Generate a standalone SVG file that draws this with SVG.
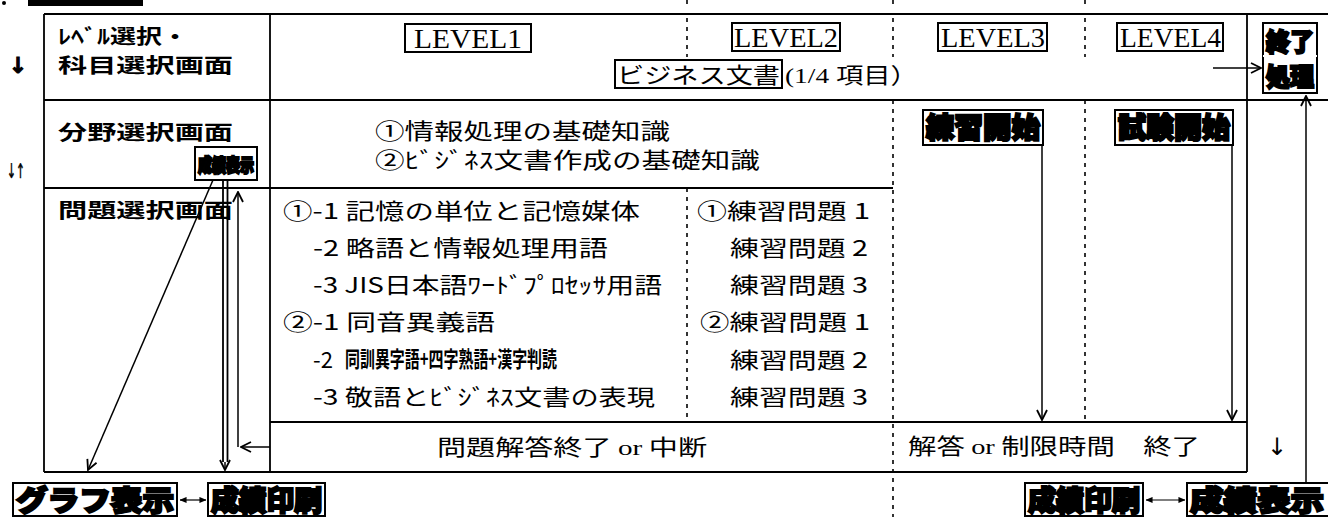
<svg xmlns="http://www.w3.org/2000/svg" width="1328" height="517" viewBox="0 0 1328 517">
<style>
.f{stroke:#000;stroke-width:1.8;fill:none}
.d{stroke:#000;stroke-width:1.6;stroke-dasharray:4 5;fill:none}
.c{stroke:#000;stroke-width:1.5;fill:none;marker-end:url(#a)}
.s{stroke:#000;stroke-width:1.2;fill:none;marker-start:url(#b);marker-end:url(#b)}
.jp{font-family:"Noto Sans CJK JP",sans-serif;font-size:22px;fill:#000}
.lb{font-family:"Noto Sans CJK JP",sans-serif;font-weight:700;font-size:20px;fill:#000}
.lv{font-family:"Liberation Serif","Noto Sans CJK JP",serif;font-size:28px;fill:#000}
.se{font-family:"Liberation Serif",serif}
.hv{font-family:"Noto Sans CJK JP",sans-serif;font-weight:900;fill:#000;stroke:#000;stroke-width:2.2}
.bx{fill:#fff;stroke:#000;stroke-width:2}
.ar{font-family:"DejaVu Sans",sans-serif;fill:#000}
</style>
<defs>
<marker id="a" viewBox="0 0 12 12" refX="11" refY="6" markerWidth="12" markerHeight="12" orient="auto" markerUnits="userSpaceOnUse"><path d="M1,1 L11,6 L1,11" fill="none" stroke="#000" stroke-width="1.8"/></marker>
<marker id="b" viewBox="0 0 8 8" refX="7.5" refY="4" markerWidth="7" markerHeight="7" orient="auto-start-reverse" markerUnits="userSpaceOnUse"><path d="M0,0.5 L8,4 L0,7.5 Z" fill="#000"/></marker>
</defs>
<rect width="1328" height="517" fill="#fff"/>

<g id="header-cut">
<circle cx="4" cy="3" r="2" fill="#000"/>
<rect x="28" y="0" width="115" height="6" fill="#000"/>
</g>

<g id="frame">
<path class="f" d="M44,14 H1328 M44,100 H1328 M44,188 H893 M270,422 H1247 M44,472 H1247 M44,14 V472 M270,14 V472 M1247,14 V472"/>
<path class="d" d="M687,0 V8 M687,18 V57 M687,188 V422 M893,0 V8 M893,18 V57 M893,100 V517 M1085,0 V8 M1085,18 V57 M1085,100 V422"/>
</g>

<g id="row-labels">
<text class="ar" x="18" y="73" font-size="22" font-weight="bold" stroke="#000" stroke-width="1" text-anchor="middle">↓</text>
<text class="lb" x="58" y="44" textLength="130" lengthAdjust="spacingAndGlyphs">ﾚﾍﾞﾙ選択・</text>
<text class="lb" x="58" y="73" textLength="175" lengthAdjust="spacingAndGlyphs">科目選択画面</text>
<text class="ar" x="7" y="178" font-size="20" stroke="#000" stroke-width="0.6" textLength="18" lengthAdjust="spacingAndGlyphs">↓↑</text>
<text class="lb" x="58" y="140" textLength="175" lengthAdjust="spacingAndGlyphs">分野選択画面</text>
<text class="lb" x="58" y="218" textLength="175" lengthAdjust="spacingAndGlyphs">問題選択画面</text>
</g>

<g id="level1"><rect class="bx" x="405" y="24" width="126" height="28" stroke-width="1.6"/><text class="lv" x="414" y="48" textLength="108" lengthAdjust="spacingAndGlyphs">LEVEL1</text></g>
<g id="level2"><rect class="bx" x="732" y="23" width="108" height="28" stroke-width="1.6"/><text class="lv" x="734" y="47" textLength="104" lengthAdjust="spacingAndGlyphs">LEVEL2</text></g>
<g id="level3"><rect class="bx" x="938" y="23" width="109" height="28" stroke-width="1.6"/><text class="lv" x="941" y="47" textLength="104" lengthAdjust="spacingAndGlyphs">LEVEL3</text></g>
<g id="level4"><rect class="bx" x="1117" y="23" width="106" height="28" stroke-width="1.6"/><text class="lv" x="1120" y="47" textLength="101" lengthAdjust="spacingAndGlyphs">LEVEL4</text></g>

<g id="subject">
<rect class="bx" x="615" y="60" width="167" height="28" stroke-width="1.6"/>
<text class="jp" x="617" y="83" font-size="26" textLength="163" lengthAdjust="spacingAndGlyphs">ビジネス文書</text>
<text class="jp" x="785" y="83" font-size="26" textLength="133" lengthAdjust="spacingAndGlyphs"><tspan class="se">(1/4 </tspan>項目）</text>
</g>

<g id="end-process">
<rect class="bx" x="1263" y="23" width="54" height="70"/>
<text class="hv" x="1266" y="51" font-size="25" textLength="48" lengthAdjust="spacingAndGlyphs">終了</text>
<line x1="1263" y1="56" x2="1317" y2="56" stroke="#fff" stroke-width="2"/>
<text class="hv" x="1266" y="86" font-size="25" textLength="48" lengthAdjust="spacingAndGlyphs">処理</text>
</g>

<g id="fields">
<text class="jp" x="375" y="139" font-size="21" textLength="295" lengthAdjust="spacingAndGlyphs">①情報処理の基礎知識</text>
<text class="jp" x="375" y="168" font-size="21" textLength="385" lengthAdjust="spacingAndGlyphs">②ﾋﾞｼﾞﾈｽ文書作成の基礎知識</text>
</g>

<g id="score-view-small">
<rect class="bx" x="195" y="147" width="62" height="33"/>
<text class="hv" x="198" y="172" font-size="18" stroke-width="1.6" textLength="56" lengthAdjust="spacingAndGlyphs">成績表示</text>
</g>

<g id="practice-start">
<rect class="bx" x="923" y="110" width="120" height="35"/>
<text class="hv" x="926" y="138" font-size="28" textLength="114" lengthAdjust="spacingAndGlyphs">練習開始</text>
</g>
<g id="test-start">
<rect class="bx" x="1115" y="110" width="118" height="35"/>
<text class="hv" x="1118" y="138" font-size="28" textLength="112" lengthAdjust="spacingAndGlyphs">試験開始</text>
</g>

<g id="topics">
<text class="jp" x="283" y="219" textLength="357" lengthAdjust="spacingAndGlyphs">①-1 記憶の単位と記憶媒体</text>
<text class="jp" x="313" y="256" textLength="295" lengthAdjust="spacingAndGlyphs">-2 略語と情報処理用語</text>
<text class="jp" x="313" y="293" textLength="349" lengthAdjust="spacingAndGlyphs">-3 JIS日本語ﾜｰﾄﾞﾌﾟﾛｾｯｻ用語</text>
<text class="jp" x="283" y="330" textLength="212" lengthAdjust="spacingAndGlyphs">②-1 同音異義語</text>
<text class="jp" x="313" y="368">-2</text>
<text class="jp" x="345" y="367" font-size="16" font-weight="700" textLength="212" lengthAdjust="spacingAndGlyphs">同訓異字語+四字熟語+漢字判読</text>
<text class="jp" x="313" y="405" textLength="342" lengthAdjust="spacingAndGlyphs">-3 敬語とﾋﾞｼﾞﾈｽ文書の表現</text>
</g>

<g id="exercises">
<text class="jp" x="697" y="219" textLength="173" lengthAdjust="spacingAndGlyphs">①練習問題 1</text>
<text class="jp" x="730" y="256" textLength="138" lengthAdjust="spacingAndGlyphs">練習問題 2</text>
<text class="jp" x="730" y="293" textLength="138" lengthAdjust="spacingAndGlyphs">練習問題 3</text>
<text class="jp" x="700" y="330" textLength="170" lengthAdjust="spacingAndGlyphs">②練習問題 1</text>
<text class="jp" x="730" y="368" textLength="138" lengthAdjust="spacingAndGlyphs">練習問題 2</text>
<text class="jp" x="730" y="405" textLength="138" lengthAdjust="spacingAndGlyphs">練習問題 3</text>
</g>

<g id="answer-end">
<text class="jp" x="437" y="455" textLength="270" lengthAdjust="spacingAndGlyphs">問題解答終了 <tspan class="se">or</tspan> 中断</text>
</g>
<g id="time-end">
<text class="jp" x="908" y="454" textLength="292" lengthAdjust="spacingAndGlyphs">解答 <tspan class="se">or</tspan> 制限時間　終了</text>
<text class="ar" x="1277" y="455" font-size="24" text-anchor="middle">↓</text>
</g>

<g id="graph-view">
<rect class="bx" x="13" y="483" width="164" height="33"/>
<text class="hv" x="16" y="511" font-size="28" textLength="158" lengthAdjust="spacingAndGlyphs">グラフ表示</text>
</g>
<g id="score-print-left">
<rect class="bx" x="208" y="483" width="117" height="33"/>
<text class="hv" x="211" y="511" font-size="28" textLength="111" lengthAdjust="spacingAndGlyphs">成績印刷</text>
</g>
<g id="score-print-right">
<rect class="bx" x="1025" y="483" width="118" height="33"/>
<text class="hv" x="1028" y="511" font-size="28" textLength="112" lengthAdjust="spacingAndGlyphs">成績印刷</text>
</g>
<g id="score-view-right">
<rect class="bx" x="1187" y="483" width="150" height="33"/>
<text class="hv" x="1190" y="511" font-size="28" textLength="134" lengthAdjust="spacingAndGlyphs">成績表示</text>
</g>

<g id="connectors">
<path class="c" d="M1213,68 H1261"/>
<path class="c" d="M1306,483 V96"/>
<path class="c" d="M1042,145 V420"/>
<path class="c" d="M1232,145 V420"/>
<path class="c" d="M213,180 L88,470"/>
<path class="f" stroke-width="1.3" d="M223,180 V462 M227.5,180 V462"/>
<path class="c" d="M225,462 V470"/>
<path class="c" d="M270,447 H241"/>
<path class="c" d="M238,447 V192"/>
<path class="s" d="M180,500 H206"/>
<path class="s" d="M1146,500 H1185"/>
</g>
</svg>
